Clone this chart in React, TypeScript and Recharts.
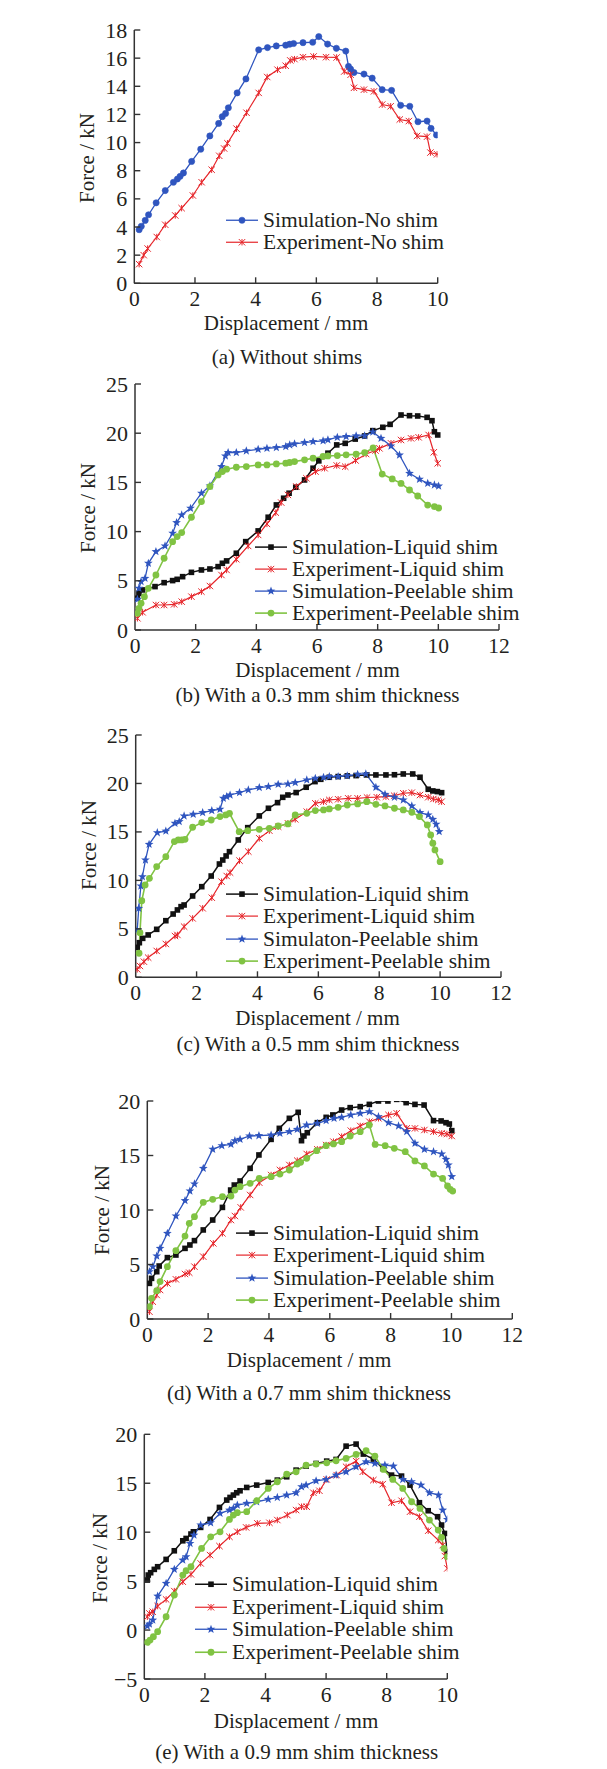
import React from 'react'
import { Legend, Line, LineChart, XAxis, YAxis } from 'recharts'

type Pt = [number, number]

// (a) without shims
const simNoShim: Pt[] = [[0.16,3.81],[0.23,4.05],[0.36,4.47],[0.47,4.87],[0.72,5.72],[1.02,6.59],[1.29,7.18],[1.42,7.41],[1.51,7.6],[1.62,7.84],[1.89,8.66],[2.19,9.53],[2.49,10.47],[2.78,11.36],[2.9,11.84],[3.01,12.07],[3.1,12.47],[3.39,13.53],[3.68,14.52],[4.1,16.59],[4.39,16.75],[4.68,16.87],[4.99,16.92],[5.12,16.99],[5.25,17.04],[5.56,17.1],[5.88,17.13],[6.08,17.53],[6.37,17.0],[6.66,16.7],[6.97,16.5],[7.06,15.41],[7.13,15.22],[7.24,14.98],[7.57,14.87],[7.84,14.58],[8.17,13.76],[8.48,13.71],[8.78,12.65],[9.08,12.58],[9.35,11.48],[9.65,11.53],[9.78,11.01],[9.96,10.54]]
const expNoShim: Pt[] = [[0.16,1.36],[0.31,2.0],[0.44,2.47],[0.74,3.29],[1.02,4.16],[1.35,4.82],[1.56,5.34],[1.93,6.24],[2.22,7.18],[2.55,8.07],[2.8,9.06],[2.96,9.58],[3.07,9.95],[3.37,10.99],[3.7,12.12],[4.1,13.53],[4.38,14.66],[4.72,15.18],[4.99,15.46],[5.14,15.84],[5.28,15.93],[5.56,16.07],[5.91,16.12],[6.32,16.07],[6.67,16.05],[6.92,15.05],[7.13,14.82],[7.24,13.89],[7.57,13.76],[7.9,13.64],[8.17,12.7],[8.45,12.58],[8.75,11.64],[9.05,11.53],[9.32,10.47],[9.65,10.42],[9.76,9.29],[9.98,9.17]]

// (b) 0.3 mm
const simLiquid03: Pt[] = [[0.08,3.22],[0.13,3.73],[0.25,4.07],[0.66,4.41],[0.96,4.81],[1.24,5.02],[1.39,5.15],[1.57,5.42],[1.86,5.86],[2.19,6.1],[2.47,6.2],[2.74,6.44],[2.88,6.78],[3.02,7.02],[3.34,7.8],[3.65,8.98],[4.06,10.07],[4.39,11.46],[4.66,12.71],[4.9,13.39],[5.08,13.9],[5.3,14.51],[5.59,15.25],[5.87,16.44],[6.06,17.19],[6.36,17.97],[6.65,18.81],[6.93,18.97],[7.26,19.4],[7.57,19.72],[7.84,20.26],[8.17,20.6],[8.41,20.9],[8.77,21.85],[9.05,21.78],[9.32,21.75],[9.63,21.61],[9.79,21.27],[9.87,20.15],[9.98,19.82]]
const expLiquid03: Pt[] = [[0.08,1.19],[0.25,1.8],[0.69,2.54],[0.96,2.54],[1.29,2.61],[1.54,2.88],[1.86,3.39],[2.19,3.9],[2.47,4.47],[2.85,5.59],[3.02,6.1],[3.34,7.19],[3.73,8.54],[4.06,9.66],[4.35,10.78],[4.64,11.93],[4.82,12.95],[5.04,13.73],[5.32,14.58],[5.65,15.42],[5.95,16.1],[6.25,16.44],[6.65,16.72],[6.93,16.6],[7.27,17.23],[7.62,17.88],[7.93,18.24],[8.06,18.46],[8.44,18.97],[8.77,19.31],[9.1,19.48],[9.35,19.58],[9.68,19.82],[9.85,18.06],[9.98,16.94]]
const simPeel03: Pt[] = [[0.08,3.12],[0.13,4.24],[0.2,4.92],[0.33,5.25],[0.44,6.78],[0.69,7.97],[0.99,8.54],[1.24,9.83],[1.37,10.92],[1.54,11.69],[1.83,12.37],[2.19,13.9],[2.47,14.64],[2.85,16.61],[2.98,17.69],[3.07,18.03],[3.34,18.03],[3.67,18.2],[4.06,18.37],[4.35,18.47],[4.66,18.54],[4.97,18.64],[5.1,18.81],[5.26,18.92],[5.59,19.05],[5.87,19.15],[6.2,19.22],[6.36,19.32],[6.67,19.59],[6.96,19.66],[7.29,19.73],[7.57,19.73],[7.84,20.12],[8.11,19.48],[8.44,18.7],[8.72,17.78],[9.05,15.92],[9.38,15.32],[9.65,14.9],[9.87,14.74],[10.01,14.63]]
const expPeel03: Pt[] = [[0.08,1.69],[0.13,2.2],[0.2,2.71],[0.31,3.39],[0.44,4.24],[0.69,5.59],[0.96,7.29],[1.24,8.98],[1.39,9.49],[1.54,9.9],[1.86,11.46],[2.19,13.05],[2.47,14.58],[2.74,15.76],[2.88,16.1],[3.02,16.34],[3.34,16.54],[3.67,16.61],[4.06,16.78],[4.35,16.78],[4.66,16.88],[4.97,16.95],[5.1,17.02],[5.26,17.12],[5.59,17.29],[5.87,17.46],[6.2,17.63],[6.36,17.69],[6.67,17.73],[6.96,17.8],[7.29,17.86],[7.57,18.03],[7.85,18.5],[8.15,15.85],[8.48,15.35],[8.77,14.9],[9.05,14.23],[9.32,13.62],[9.65,12.7],[9.87,12.53],[10.01,12.4]]

// (c) 0.5 mm
const simLiquid05: Pt[] = [[0.05,3.09],[0.12,3.57],[0.23,4.02],[0.41,4.37],[0.69,4.95],[0.99,5.84],[1.23,6.53],[1.37,6.95],[1.49,7.29],[1.59,7.46],[1.87,8.39],[2.17,9.35],[2.48,10.45],[2.75,11.69],[2.86,12.1],[2.97,12.52],[3.08,12.96],[3.37,14.17],[3.68,15.44],[4.06,16.65],[4.36,17.44],[4.66,18.02],[4.83,18.57],[5.0,18.81],[5.27,19.06],[5.6,19.61],[5.89,20.19],[6.08,20.43],[6.36,20.64],[6.65,20.71],[6.95,20.78],[7.24,20.81],[7.59,20.88],[7.89,20.88],[8.22,20.88],[8.5,20.9],[8.79,20.98],[9.1,20.98],[9.34,20.64],[9.61,19.4],[9.76,19.23],[9.91,19.16],[10.05,19.05]]
const expLiquid05: Pt[] = [[0.05,0.82],[0.14,1.17],[0.27,1.61],[0.41,2.03],[0.69,2.72],[0.99,3.44],[1.29,4.26],[1.37,4.37],[1.59,5.23],[1.87,6.08],[2.2,7.12],[2.5,8.21],[2.82,9.87],[2.99,10.45],[3.1,10.8],[3.41,12.04],[3.7,12.97],[4.06,14.34],[4.39,15.13],[4.68,15.54],[5.0,15.89],[5.24,16.3],[5.62,17.09],[5.9,17.95],[6.17,18.12],[6.36,18.3],[6.65,18.37],[6.98,18.47],[7.29,18.47],[7.6,18.55],[7.92,18.58],[8.22,18.64],[8.49,18.74],[8.79,18.99],[9.07,19.05],[9.34,18.81],[9.61,18.58],[9.78,18.4],[9.94,18.3],[10.05,18.12]]
const simPeel05: Pt[] = [[0.05,4.88],[0.1,7.11],[0.17,9.42],[0.22,10.38],[0.32,12.1],[0.44,13.72],[0.71,14.92],[0.99,15.09],[1.29,15.89],[1.43,16.06],[1.59,16.65],[1.89,16.82],[2.2,16.99],[2.5,17.2],[2.77,17.34],[2.88,18.47],[2.99,18.64],[3.1,18.81],[3.41,19.06],[3.7,19.33],[4.06,19.57],[4.36,19.68],[4.68,19.92],[5.0,19.95],[5.24,20.09],[5.62,20.36],[5.9,20.54],[6.17,20.64],[6.36,20.71],[6.65,20.71],[6.95,20.78],[7.29,20.95],[7.56,20.98],[7.89,19.61],[8.19,18.88],[8.5,18.58],[8.79,18.3],[9.07,17.68],[9.34,16.99],[9.61,16.75],[9.76,16.3],[9.87,15.79],[9.97,15.03]]
const expPeel05: Pt[] = [[0.11,2.48],[0.14,4.6],[0.2,7.9],[0.31,9.53],[0.45,10.21],[0.69,11.42],[0.99,12.45],[1.27,14.0],[1.4,14.17],[1.51,14.17],[1.62,14.24],[1.87,15.48],[2.17,15.96],[2.48,16.23],[2.77,16.58],[2.96,16.75],[3.08,16.92],[3.4,15.03],[3.68,15.13],[4.06,15.27],[4.39,15.37],[4.68,15.61],[5.0,15.82],[5.24,16.75],[5.62,16.92],[5.9,17.2],[6.17,17.27],[6.36,17.37],[6.65,17.54],[6.95,17.78],[7.29,17.89],[7.59,18.12],[7.89,17.85],[8.19,17.68],[8.5,17.44],[8.79,17.27],[9.07,17.03],[9.32,16.58],[9.58,15.72],[9.69,14.69],[9.76,13.83],[9.83,13.14],[10.0,11.93]]

// (d) 0.7 mm
const simLiquid07: Pt[] = [[0.07,3.27],[0.14,3.73],[0.31,4.34],[0.39,4.86],[0.66,5.63],[0.94,5.87],[1.24,6.48],[1.4,6.79],[1.55,7.19],[1.84,8.17],[2.15,9.08],[2.47,10.24],[2.74,11.83],[2.86,12.29],[3.05,12.66],[3.38,13.82],[3.67,15.05],[4.07,16.48],[4.34,17.49],[4.67,18.41],[4.96,18.96],[5.07,16.36],[5.15,16.79],[5.26,17.09],[5.59,18.01],[5.88,18.5],[6.1,18.72],[6.39,19.17],[6.67,19.39],[7.0,19.48],[7.3,19.69],[7.6,20.0],[7.91,20.0],[8.2,20.15],[8.51,19.85],[8.8,19.69],[9.1,19.63],[9.41,18.2],[9.66,18.17],[9.82,18.01],[9.93,17.89],[10.01,17.28]]
const expLiquid07: Pt[] = [[0.07,0.67],[0.18,1.59],[0.31,2.2],[0.42,2.66],[0.66,3.27],[0.94,3.64],[1.24,4.13],[1.38,4.25],[1.55,4.8],[1.84,5.72],[2.17,6.94],[2.47,7.86],[2.75,9.08],[2.88,9.45],[3.07,10.24],[3.38,11.38],[3.68,12.51],[4.07,13.21],[4.36,13.67],[4.67,14.13],[4.93,14.53],[5.24,15.14],[5.59,15.57],[5.88,15.96],[6.12,16.27],[6.39,16.73],[6.69,17.28],[7.0,17.71],[7.3,18.1],[7.6,18.41],[7.93,18.72],[8.2,18.87],[8.53,17.49],[8.8,17.49],[9.11,17.34],[9.41,17.19],[9.68,17.03],[9.85,16.97],[10.01,16.79]]
const simPeel07: Pt[] = [[0.07,4.34],[0.18,4.8],[0.31,5.78],[0.42,6.48],[0.66,7.86],[0.94,9.45],[1.24,10.86],[1.4,11.74],[1.55,12.39],[1.84,13.82],[2.15,15.57],[2.45,15.9],[2.75,16.02],[2.88,16.36],[3.05,16.48],[3.36,16.79],[3.67,16.82],[4.07,16.88],[4.36,17.03],[4.67,17.19],[4.93,17.4],[5.24,17.8],[5.59,17.95],[5.88,18.2],[6.14,18.41],[6.39,18.5],[6.69,18.72],[7.0,18.87],[7.3,19.02],[7.6,18.56],[7.93,18.01],[8.26,17.71],[8.53,17.19],[8.8,16.12],[9.11,15.57],[9.41,15.35],[9.68,15.14],[9.82,14.65],[9.9,14.13],[10.01,13.06]]
const expPeel07: Pt[] = [[0.07,1.13],[0.14,1.9],[0.31,2.6],[0.42,3.43],[0.66,4.8],[0.94,6.27],[1.24,7.61],[1.38,8.78],[1.55,9.39],[1.84,10.7],[2.15,10.98],[2.47,11.22],[2.75,11.28],[2.88,11.83],[3.05,12.14],[3.38,12.45],[3.68,12.9],[4.07,13.06],[4.36,13.3],[4.67,13.67],[4.93,14.22],[5.04,14.37],[5.24,14.74],[5.57,15.44],[5.88,15.9],[6.12,16.06],[6.39,16.27],[6.67,16.79],[7.0,17.19],[7.3,17.8],[7.49,16.02],[7.82,15.9],[8.12,15.66],[8.48,15.35],[8.8,14.5],[9.11,14.04],[9.41,13.3],[9.71,12.9],[9.87,12.2],[9.96,11.9],[10.04,11.74]]

// (e) 0.9 mm
const simLiquid09: Pt[] = [[0.1,5.11],[0.13,5.62],[0.21,5.86],[0.33,6.2],[0.44,6.47],[0.72,7.22],[0.99,8.1],[1.27,9.12],[1.38,9.36],[1.54,9.81],[1.62,10.04],[1.86,10.49],[2.17,11.3],[2.48,12.53],[2.72,13.28],[2.83,13.55],[2.94,13.79],[3.05,14.03],[3.16,14.23],[3.38,14.57],[3.71,14.81],[4.09,15.08],[4.39,15.32],[4.7,15.66],[5.01,16.34],[5.34,16.75],[5.67,17.02],[6.02,17.26],[6.33,17.43],[6.66,18.79],[6.99,19.0],[7.23,17.98],[7.56,17.47],[7.87,16.51],[8.16,15.83],[8.49,15.73],[8.77,14.81],[9.08,13.01],[9.37,12.19],[9.68,11.58],[9.81,10.73],[9.92,9.87],[10.0,8.0]]
const expLiquid09: Pt[] = [[0.1,1.36],[0.17,1.7],[0.28,1.87],[0.44,2.45],[0.72,3.13],[0.99,3.98],[1.27,4.94],[1.54,5.69],[1.86,6.81],[2.17,7.66],[2.48,8.58],[2.81,9.53],[3.07,10.04],[3.36,10.49],[3.73,10.9],[4.13,10.96],[4.39,11.24],[4.72,11.75],[5.01,12.26],[5.19,12.6],[5.36,12.6],[5.58,14.03],[5.78,14.23],[6.02,15.39],[6.35,15.83],[6.66,16.68],[6.99,17.26],[7.21,16.17],[7.56,15.32],[7.87,14.91],[8.16,13.01],[8.49,13.21],[8.77,12.09],[9.08,11.58],[9.37,10.15],[9.7,9.19],[9.85,8.68],[9.92,7.56],[10.0,6.3]]
const simPeel09: Pt[] = [[0.1,0.41],[0.17,0.61],[0.28,1.02],[0.44,3.47],[0.72,4.77],[0.99,6.2],[1.27,7.15],[1.38,7.49],[1.51,8.85],[1.64,9.7],[1.86,10.73],[2.19,10.96],[2.5,11.92],[2.81,12.26],[2.94,12.43],[3.07,12.77],[3.38,12.94],[3.71,13.11],[4.09,13.35],[4.39,13.55],[4.7,13.79],[5.01,14.03],[5.19,14.64],[5.34,14.81],[5.67,15.25],[6.0,15.39],[6.33,15.83],[6.66,16.17],[6.99,16.68],[7.32,17.19],[7.61,17.02],[7.94,16.85],[8.22,16.75],[8.53,15.39],[8.82,15.15],[9.13,14.81],[9.41,14.03],[9.71,13.79],[9.85,12.26],[10.0,11.3]]
const expPeel09: Pt[] = [[0.1,-1.26],[0.19,-1.02],[0.3,-0.68],[0.44,-0.17],[0.72,1.36],[0.99,3.58],[1.27,5.62],[1.38,6.06],[1.54,6.47],[1.89,8.34],[2.19,9.53],[2.5,10.04],[2.81,11.3],[2.94,11.75],[3.07,11.99],[3.38,12.09],[3.71,13.21],[4.09,14.47],[4.39,15.15],[4.7,15.93],[5.01,16.17],[5.34,16.85],[5.67,16.96],[6.02,17.09],[6.33,17.3],[6.66,17.54],[6.99,17.94],[7.32,18.32],[7.61,17.77],[7.89,16.41],[8.2,15.39],[8.53,14.47],[8.82,13.11],[9.1,12.43],[9.41,11.24],[9.7,10.21],[9.81,9.47],[9.89,8.34],[10.0,7.49]]

const xTicks10 = [0, 2, 4, 6, 8, 10]
const xTicks12 = [0, 2, 4, 6, 8, 10, 12]
const yTicks18 = [0, 2, 4, 6, 8, 10, 12, 14, 16, 18]
const yTicks25 = [0, 5, 10, 15, 20, 25]
const yTicks20 = [0, 5, 10, 15, 20]
const yTicksE = [-5, 0, 5, 10, 15, 20]

const FONT = '"Liberation Serif", "Times New Roman", serif'
const TEXT = '#231f20'
const AXIS = '#333333'
const BLUE = '#2f55bf'
const RED = '#e6262b'
const BLACK = '#111111'
const GREEN = '#80c343'

type MarkerKind = 'circle' | 'square' | 'cross' | 'star' | 'dot'

type Series = { name: string; data: Pt[]; color: string; marker: MarkerKind; width: number }

function starPath(cx: number, cy: number, ro: number, ri: number) {
  let d = ''
  for (let i = 0; i < 10; i++) {
    const r = i % 2 === 0 ? ro : ri
    const a = -Math.PI / 2 + (i * Math.PI) / 5
    d += `${i === 0 ? 'M' : 'L'}${cx + r * Math.cos(a)},${cy + r * Math.sin(a)}`
  }
  return d + 'Z'
}

function Marker({ kind, cx, cy, color }: { kind: MarkerKind; cx?: number; cy?: number; color: string }) {
  if (cx == null || cy == null || isNaN(cx) || isNaN(cy)) return null
  if (kind === 'circle') return <circle cx={cx} cy={cy} r={3.1} fill={color} stroke={color} strokeWidth={0.6} />
  if (kind === 'dot') return <circle cx={cx} cy={cy} r={3.4} fill={color} />
  if (kind === 'square') return <rect x={cx - 2.8} y={cy - 2.8} width={5.6} height={5.6} fill={color} />
  if (kind === 'star') return <path d={starPath(cx, cy, 4.6, 1.9)} fill={color} />
  const r = 3.2
  return (
    <g stroke={color} strokeWidth={1}>
      <line x1={cx - r} y1={cy - r} x2={cx + r} y2={cy + r} />
      <line x1={cx - r} y1={cy + r} x2={cx + r} y2={cy - r} />
      <line x1={cx} y1={cy - r} x2={cx} y2={cy + r} />
    </g>
  )
}

type Panel = {
  top: number
  height: number
  plotL: number
  plotR: number
  plotT: number
  plotB: number
  xMax: number
  xTicks: number[]
  yMin: number
  yMax: number
  yTicks: number[]
  series: Series[]
  legendX: number
  legendY: number
  rowH: number
  force: [number, number]
  disp: [number, number]
  cap: [number, number]
  caption: string
}

const panels: Panel[] = [
  {
    top: 0, height: 340, plotL: 134.3, plotR: 437.7, plotT: 30, plotB: 283.3,
    xMax: 10, xTicks: xTicks10, yMin: 0, yMax: 18, yTicks: yTicks18,
    series: [
      { name: 'Simulation-No shim', data: simNoShim, color: BLUE, marker: 'circle', width: 1.3 },
      { name: 'Experiment-No shim', data: expNoShim, color: RED, marker: 'cross', width: 1.2 },
    ],
    legendX: 226, legendY: 208.5, rowH: 22.5,
    force: [87, 157.5], disp: [286, 320], cap: [287, 355], caption: '(a) Without shims',
  },
  {
    top: 340, height: 340, plotL: 135, plotR: 499, plotT: 384, plotB: 630,
    xMax: 12, xTicks: xTicks12, yMin: 0, yMax: 25, yTicks: yTicks25,
    series: [
      { name: 'Simulation-Liquid shim', data: simLiquid03, color: BLACK, marker: 'square', width: 1.5 },
      { name: 'Experiment-Liquid shim', data: expLiquid03, color: RED, marker: 'cross', width: 1.2 },
      { name: 'Simulation-Peelable shim', data: simPeel03, color: BLUE, marker: 'star', width: 1.3 },
      { name: 'Experiment-Peelable shim', data: expPeel03, color: GREEN, marker: 'dot', width: 1.6 },
    ],
    legendX: 255, legendY: 535.6, rowH: 22.2,
    force: [88, 507.5], disp: [317.5, 667], cap: [317.5, 692.5], caption: '(b) With a 0.3 mm shim thickness',
  },
  {
    top: 700, height: 340, plotL: 135.7, plotR: 501, plotT: 735, plotB: 977.3,
    xMax: 12, xTicks: xTicks12, yMin: 0, yMax: 25, yTicks: yTicks25,
    series: [
      { name: 'Simulation-Liquid shim', data: simLiquid05, color: BLACK, marker: 'square', width: 1.5 },
      { name: 'Experiment-Liquid shim', data: expLiquid05, color: RED, marker: 'cross', width: 1.2 },
      { name: 'Simulaton-Peelable shim', data: simPeel05, color: BLUE, marker: 'star', width: 1.3 },
      { name: 'Experiment-Peelable shim', data: expPeel05, color: GREEN, marker: 'dot', width: 1.6 },
    ],
    legendX: 226, legendY: 883.2, rowH: 22.2,
    force: [89, 845], disp: [317.5, 1015], cap: [318, 1041.7], caption: '(c) With a 0.5 mm shim thickness',
  },
  {
    top: 1060, height: 300, plotL: 147.3, plotR: 512.3, plotT: 1101, plotB: 1319,
    xMax: 12, xTicks: xTicks12, yMin: 0, yMax: 20, yTicks: yTicks20,
    series: [
      { name: 'Simulation-Liquid shim', data: simLiquid07, color: BLACK, marker: 'square', width: 1.5 },
      { name: 'Experiment-Liquid shim', data: expLiquid07, color: RED, marker: 'cross', width: 1.2 },
      { name: 'Simulation-Peelable shim', data: simPeel07, color: BLUE, marker: 'star', width: 1.3 },
      { name: 'Experiment-Peelable shim', data: expPeel07, color: GREEN, marker: 'dot', width: 1.6 },
    ],
    legendX: 236, legendY: 1222.2, rowH: 22.2,
    force: [101.7, 1210], disp: [309, 1357], cap: [309, 1390.5], caption: '(d) With a 0.7 mm shim thickness',
  },
  {
    top: 1400, height: 369, plotL: 144.3, plotR: 447.3, plotT: 1434.3, plotB: 1679,
    xMax: 10, xTicks: xTicks10, yMin: -5, yMax: 20, yTicks: yTicksE,
    series: [
      { name: 'Simulation-Liquid shim', data: simLiquid09, color: BLACK, marker: 'square', width: 1.5 },
      { name: 'Experiment-Liquid shim', data: expLiquid09, color: RED, marker: 'cross', width: 1.2 },
      { name: 'Simulation-Peelable shim', data: simPeel09, color: BLUE, marker: 'star', width: 1.3 },
      { name: 'Experiment-Peelable shim', data: expPeel09, color: GREEN, marker: 'dot', width: 1.6 },
    ],
    legendX: 195, legendY: 1573, rowH: 22.5,
    force: [100, 1557.5], disp: [296, 1718], cap: [296.7, 1750], caption: '(e) With a 0.9 mm shim thickness',
  },
]

const fmt = (v: number) => (v < 0 ? `\u2212${-v}` : `${v}`)

const XTick = (props: any) => {
  const { x, y, payload } = props
  return (
    <g>
      {payload.value !== 0 && <line x1={x} y1={y} x2={x} y2={y - 6} stroke={AXIS} strokeWidth={1.4} />}
      <text x={x} y={y + 15.5} textAnchor="middle" dominantBaseline="central" fontSize={21.5} fontFamily={FONT} fill={TEXT}>
        {fmt(payload.value)}
      </text>
    </g>
  )
}

const YTick = (props: any) => {
  const { x, y, payload } = props
  return (
    <g>
      <line x1={x} y1={y} x2={x + 6} y2={y} stroke={AXIS} strokeWidth={1.4} />
      <text x={x - 7} y={y} textAnchor="end" dominantBaseline="central" fontSize={22} fontFamily={FONT} fill={TEXT}>
        {fmt(payload.value)}
      </text>
    </g>
  )
}

function LegendBox({ series, rowH }: { series: Series[]; rowH: number }) {
  return (
    <div style={{ fontFamily: FONT, fontSize: 21.5, color: TEXT }}>
      {series.map((s) => (
        <div key={s.name} style={{ display: 'flex', alignItems: 'center', height: rowH, whiteSpace: 'nowrap' }}>
          <svg width={32} height={rowH} style={{ marginRight: 5, flex: 'none' }}>
            <line x1={0} x2={32} y1={rowH / 2} y2={rowH / 2} stroke={s.color} strokeWidth={s.width} />
            <Marker kind={s.marker} cx={16} cy={rowH / 2} color={s.color} />
          </svg>
          <span style={{ display: 'inline-block', height: rowH, lineHeight: `${rowH}px`, overflow: 'visible' }}>{s.name}</span>
        </div>
      ))}
    </div>
  )
}

const textStyle: React.CSSProperties = {
  position: 'absolute',
  fontFamily: FONT,
  fontSize: 21,
  color: TEXT,
  whiteSpace: 'nowrap',
  lineHeight: 1,
}

function PanelChart({ p }: { p: Panel }) {
  const margin = {
    top: p.plotT - p.top,
    bottom: p.top + p.height - p.plotB - 30,
    left: p.plotL - 40,
    right: 607 - p.plotR,
  }
  return (
    <div style={{ position: 'absolute', left: 0, top: p.top, width: 607, height: p.height }}>
      <LineChart width={607} height={p.height} margin={margin}>
        <XAxis
          type="number"
          dataKey="x"
          domain={[0, p.xMax]}
          ticks={p.xTicks}
          interval={0}
          allowDataOverflow
          height={30}
          tickSize={0}
          tickMargin={0}
          tickLine={false}
          axisLine={{ stroke: AXIS, strokeWidth: 1.5 }}
          tick={XTick}
        />
        <YAxis
          type="number"
          domain={[p.yMin, p.yMax]}
          ticks={p.yTicks}
          interval={0}
          allowDataOverflow
          width={40}
          tickSize={0}
          tickMargin={0}
          tickLine={false}
          axisLine={{ stroke: AXIS, strokeWidth: 1.5 }}
          tick={YTick}
        />
        {p.series.map((s) => (
          <Line
            key={s.name}
            name={s.name}
            data={s.data.map(([x, y]) => ({ x, y }))}
            dataKey="y"
            type="linear"
            stroke={s.color}
            strokeWidth={s.width}
            activeDot={false}
            isAnimationActive={false}
            dot={(d: any) => <Marker key={`${s.name}-${d.index}`} kind={s.marker} cx={d.cx} cy={d.cy} color={s.color} />}
          />
        ))}
        <Legend
          layout="vertical"
          align="center"
          verticalAlign="middle"
          wrapperStyle={{ left: p.legendX, top: p.legendY - p.top, width: 320 }}
          content={() => <LegendBox series={p.series} rowH={p.rowH} />}
        />
      </LineChart>
      <div style={{ ...textStyle, left: p.force[0], top: p.force[1] - p.top, transform: 'translate(-50%, -50%) rotate(-90deg)' }}>
        Force / kN
      </div>
      <div style={{ ...textStyle, left: p.disp[0], top: p.disp[1] - p.top + 3, transform: 'translate(-50%, -50%)' }}>
        Displacement / mm
      </div>
      <div style={{ ...textStyle, left: p.cap[0], top: p.cap[1] - p.top + 2, transform: 'translate(-50%, -50%)' }}>
        {p.caption}
      </div>
    </div>
  )
}

export default function App() {
  return (
    <div style={{ position: 'absolute', left: 0, top: 0, width: 607, height: 1769, background: '#ffffff' }}>
      {panels.map((p) => (
        <PanelChart key={p.caption} p={p} />
      ))}
    </div>
  )
}
